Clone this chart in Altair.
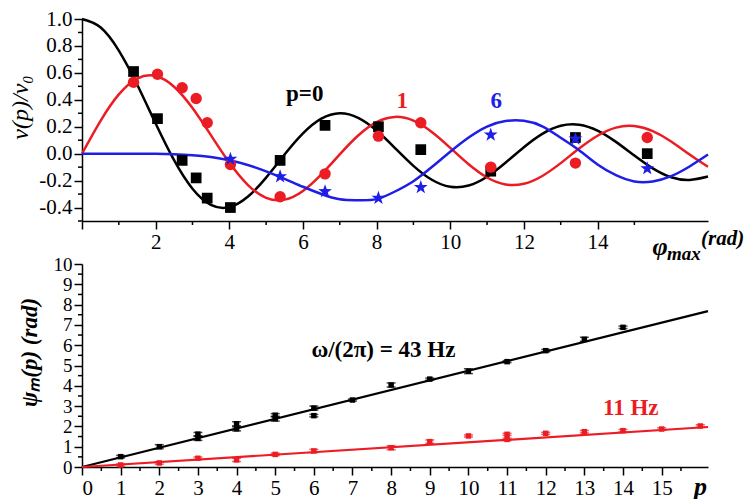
import altair as alt
import pandas as pd

# ---------------- top panel data ----------------
phi_curve = [0, 0.5, 1, 1.5, 2, 2.5, 3, 3.5, 4, 4.5, 5, 5.5, 6, 6.5, 7, 7.5, 8, 8.5,
             9, 9.5, 10, 10.5, 11, 11.5, 12, 12.5, 13, 13.5, 14, 14.5, 15, 15.5, 16, 16.5, 17]
curve_p0 = [1.0, 0.9385, 0.7652, 0.5118, 0.2239, -0.0484, -0.2601, -0.3801, -0.3971, -0.3205,
            -0.1776, -0.0068, 0.1506, 0.2601, 0.3001, 0.2663, 0.1717, 0.0419, -0.0903, -0.1939,
            -0.2459, -0.2366, -0.1712, -0.0677, 0.0477, 0.1469, 0.2069, 0.2150, 0.1711, 0.0875,
            -0.0142, -0.1092, -0.1749, -0.1950, -0.1699]
curve_p1 = [0.0, 0.2423, 0.4401, 0.5579, 0.5767, 0.4971, 0.3391, 0.1374, -0.0660, -0.2311,
            -0.3276, -0.3414, -0.2767, -0.1538, -0.0047, 0.1352, 0.2346, 0.2731, 0.2453, 0.1613,
            0.0435, -0.0789, -0.1768, -0.2284, -0.2234, -0.1655, -0.0703, 0.0380, 0.1334, 0.1934,
            0.2051, 0.1672, 0.0904, -0.0068, -0.0977]
curve_p6 = [0.0, 0.0, 0.0, -0.0002, -0.0012, -0.0042, -0.0114, -0.0254, -0.0491, -0.0837,
            -0.1310, -0.1865, -0.2458, -0.2998, -0.3392, -0.3460, -0.3376, -0.2810, -0.2043, -0.0993,
            0.0145, 0.1200, 0.2016, 0.2420, 0.2437, 0.2030, 0.1180, 0.0250, -0.0812, -0.1600,
            -0.2061, -0.2060, -0.1668, -0.0950, -0.0068]

phi_pts = [1.4, 2.05, 2.72, 3.1, 3.4, 4.03, 5.38, 6.6, 8.05, 9.2, 11.1, 13.4, 15.35]
pts_p0 = [0.61, 0.26, -0.05, -0.18, -0.33, -0.40, -0.05, 0.21, 0.20, 0.03, -0.13, 0.12, 0.00]
pts_p1 = [0.53, 0.59, 0.49, 0.41, 0.23, -0.08, -0.32, -0.15, 0.13, 0.23, -0.10, -0.07, 0.12]
phi_pts6 = [4.03, 5.38, 6.6, 8.05, 9.2, 11.1, 13.4, 15.35]
pts_p6 = [-0.04, -0.17, -0.28, -0.33, -0.25, 0.14, 0.11, -0.11]

top_labels = ["p=0", "1", "6"]
top_label_x = [6.05, 8.7, 11.25]
top_label_y = [0.44, 0.39, 0.39]

# tick positions
top_x_major = [0, 2, 4, 6, 8, 10, 12, 14]
top_x_minor = [1, 3, 5, 7, 9, 11, 13, 15]
top_y_major = [-0.4, -0.2, 0.0, 0.2, 0.4, 0.6, 0.8, 1.0]
top_y_minor = [-0.5, -0.3, -0.1, 0.1, 0.3, 0.5, 0.7, 0.9]

# ---------------- bottom panel data ----------------
p_43 = [1, 2, 3, 3, 4, 4, 5, 5, 6, 6, 7, 8, 9, 10, 11, 12, 13, 14]
psi_43 = [0.51, 1.0, 1.41, 1.62, 1.88, 2.13, 2.38, 2.55, 2.9, 2.53, 3.3, 4.04, 4.33, 4.72, 5.19, 5.73, 6.29, 6.88]
err_43 = [0.06, 0.1, 0.1, 0.08, 0.1, 0.1, 0.12, 0.08, 0.1, 0.06, 0.05, 0.1, 0.05, 0.12, 0.05, 0.06, 0.1, 0.06]
p_11 = [1, 2, 3, 4, 5, 6, 8, 9, 10, 11, 11, 12, 13, 14, 15, 16]
psi_11 = [0.1, 0.2, 0.43, 0.35, 0.62, 0.79, 0.95, 1.25, 1.53, 1.61, 1.36, 1.66, 1.74, 1.79, 1.87, 2.02]
err_11 = [0.05, 0.06, 0.06, 0.08, 0.06, 0.08, 0.1, 0.08, 0.05, 0.05, 0.06, 0.05, 0.06, 0.06, 0.06, 0.06]
fit_p = [0, 16.2]
fit_43 = [0, 7.68]
fit_11 = [0, 1.97]

bottom_labels = ["ω/(2π) = 43 Hz", "11 Hz"]
bottom_label_x = [7.8, 14.2]
bottom_label_y = [5.76, 2.9]

bot_x_major = list(range(0, 16))
bot_x_minor = [i + 0.5 for i in range(16)]
bot_y_major = list(range(0, 11))
bot_y_minor = [i + 0.5 for i in range(10)]

BLACK = "#000000"
RED = "#ec1c24"
BLUE = "#1e1ee6"
FONT = "Liberation Serif"
W = 626
H_TOP = 202
H_BOT = 203
STAR = ("M0,-1L0.235,-0.324L0.951,-0.309L0.380,0.124L0.588,0.809L0,0.4L-0.588,0.809"
        "L-0.380,0.124L-0.951,-0.309L-0.235,-0.324Z")

common_axis = dict(labelFont=FONT, labelColor="black", domainColor="black",
                   domainWidth=1.5, tickColor="black", tickWidth=1.5, tickSize=8, labelPadding=2,
                   labelOverlap=False, grid=False, titleFont=FONT, titleColor="black")

top_x_axis = alt.Axis(values=top_x_major, title=None, labelFontSize=21,
                      labelExpr="datum.value > 0 ? datum.value : ''", **common_axis)
top_y_axis = alt.Axis(values=top_y_major, title="ν(p)/ν₀", titleFontStyle="italic", titleFontSize=24,
                      titleFontWeight="normal", titlePadding=6, titleY=88, labelFontSize=21,
                      labelExpr="(datum.value < 0 ? '-' : '') + format(abs(datum.value), '.1f')",
                      **common_axis)
bot_x_axis = alt.Axis(values=bot_x_major, title="p", titleFontStyle="italic", titleFontWeight="bold",
                      titleFontSize=26, titleX=618, titleY=27, titleBaseline="alphabetic", titleAlign="center",
                      labelFontSize=21, **common_axis)
bot_y_axis = alt.Axis(values=bot_y_major, title="ψₘ(p) (rad)", titleFontStyle="italic", titleFontWeight="bold",
                      titleFontSize=23, titlePadding=12, titleY=88, labelFontSize=19, **common_axis)

xs_top = alt.Scale(domain=[0, 17], nice=False, zero=False)
ys_top = alt.Scale(domain=[-0.5, 1.0], nice=False, zero=False)
xs_bot = alt.Scale(domain=[0, 16.2], nice=False, zero=False)
ys_bot = alt.Scale(domain=[0, 10], nice=False, zero=False)


def TX(f):
    return alt.X(f, type="quantitative", scale=xs_top, axis=top_x_axis)


def TY(f):
    return alt.Y(f, type="quantitative", scale=ys_top, axis=top_y_axis)


def BX(f):
    return alt.X(f, type="quantitative", scale=xs_bot, axis=bot_x_axis)


def BY(f):
    return alt.Y(f, type="quantitative", scale=ys_bot, axis=bot_y_axis)


def minor_ticks(xvals, yvals, height, fx, fy):
    xt = alt.Chart(pd.DataFrame({"v": xvals})).mark_rule(color="black", strokeWidth=1.5).encode(
        x=fx("v"), y=alt.value(height), y2=alt.value(height + 4))
    yt = alt.Chart(pd.DataFrame({"v": yvals})).mark_rule(color="black", strokeWidth=1.5).encode(
        y=fy("v"), x=alt.value(-4), x2=alt.value(0))
    return xt, yt


# ---------------- top panel ----------------
curves = pd.concat([
    pd.DataFrame({"phi": phi_curve, "v": curve_p0, "s": "0"}),
    pd.DataFrame({"phi": phi_curve, "v": curve_p1, "s": "1"}),
    pd.DataFrame({"phi": phi_curve, "v": curve_p6, "s": "6"}),
])
color_scale = alt.Scale(domain=["0", "1", "6"], range=[BLACK, RED, BLUE])

lines = alt.Chart(curves).mark_line(interpolate="natural", strokeWidth=2.5).encode(
    x=TX("phi"), y=TY("v"),
    color=alt.Color("s:N", scale=color_scale, legend=None),
    detail="s:N",
)

sq = alt.Chart(pd.DataFrame({"phi": phi_pts, "v": pts_p0})).mark_point(
    shape="square", filled=True, size=115, color=BLACK, opacity=1).encode(x=TX("phi"), y=TY("v"))
circ = alt.Chart(pd.DataFrame({"phi": phi_pts, "v": pts_p1})).mark_point(
    shape="circle", filled=True, size=130, color=RED, opacity=1).encode(x=TX("phi"), y=TY("v"))
star = alt.Chart(pd.DataFrame({"phi": phi_pts6, "v": pts_p6})).mark_point(
    shape=STAR, filled=True, size=210, color=BLUE, opacity=1).encode(x=TX("phi"), y=TY("v"))

top_lab = alt.Chart(pd.DataFrame({"t": top_labels, "x": top_label_x, "y": top_label_y,
                                  "s": ["0", "1", "6"]})).mark_text(
    font=FONT, fontSize=23, fontWeight="bold").encode(
    x=TX("x"), y=TY("y"), text="t:N", color=alt.Color("s:N", scale=color_scale, legend=None))

phi_t = alt.Chart(pd.DataFrame({"t": ["φ"]})).mark_text(
    font=FONT, fontSize=26, fontStyle="italic", fontWeight="bold", align="center", baseline="middle",
    color="black").encode(x=alt.value(578), y=alt.value(228), text="t:N")
max_t = alt.Chart(pd.DataFrame({"t": ["max"]})).mark_text(
    font=FONT, fontSize=19, fontStyle="italic", fontWeight="bold", align="left", baseline="middle",
    color="black").encode(x=alt.value(585), y=alt.value(235), text="t:N")
rad_t = alt.Chart(pd.DataFrame({"t": ["(rad)"]})).mark_text(
    font=FONT, fontSize=21, fontStyle="italic", fontWeight="bold", align="left", baseline="middle",
    color="black").encode(x=alt.value(619), y=alt.value(220), text="t:N")

tx, ty = minor_ticks(top_x_minor, top_y_minor, H_TOP, TX, TY)
top = alt.layer(lines, sq, circ, star, top_lab, phi_t, max_t, rad_t, tx, ty).properties(width=W, height=H_TOP)

# ---------------- bottom panel ----------------
d43 = pd.DataFrame({"p": p_43, "psi": psi_43, "e": err_43})
d43["lo"] = d43["psi"] - d43["e"]
d43["hi"] = d43["psi"] + d43["e"]
d11 = pd.DataFrame({"p": p_11, "psi": psi_11, "e": err_11})
d11["lo"] = d11["psi"] - d11["e"]
d11["hi"] = d11["psi"] + d11["e"]


def series_layers(df, fit_vals, col):
    fit = alt.Chart(pd.DataFrame({"p": fit_p, "psi": fit_vals})).mark_line(
        color=col, strokeWidth=2.2).encode(x=BX("p"), y=BY("psi"))
    bars = alt.Chart(df).mark_rule(color=col, strokeWidth=1.5).encode(x=BX("p"), y=BY("lo"), y2="hi:Q")
    cap_lo = alt.Chart(df).mark_tick(color=col, orient="horizontal", size=9, thickness=1.5).encode(
        x=BX("p"), y=BY("lo"))
    cap_hi = alt.Chart(df).mark_tick(color=col, orient="horizontal", size=9, thickness=1.5).encode(
        x=BX("p"), y=BY("hi"))
    pts = alt.Chart(df).mark_point(shape="square", filled=True, size=30, color=col, opacity=1).encode(
        x=BX("p"), y=BY("psi"))
    return [fit, bars, cap_lo, cap_hi, pts]


bot_lab = alt.Chart(pd.DataFrame({"t": bottom_labels, "x": bottom_label_x, "y": bottom_label_y,
                                  "s": ["0", "1"]})).mark_text(
    font=FONT, fontSize=23, fontWeight="bold").encode(
    x=BX("x"), y=BY("y"), text="t:N", color=alt.Color("s:N", scale=color_scale, legend=None))

bx, by = minor_ticks(bot_x_minor, bot_y_minor, H_BOT, BX, BY)
bottom = alt.layer(*series_layers(d43, fit_43, BLACK), *series_layers(d11, fit_11, RED), bot_lab, bx, by).properties(
    width=W, height=H_BOT)

chart = alt.vconcat(top, bottom, spacing=-13).properties(
    padding={"left": 0, "top": 0, "right": 0, "bottom": 0}
).configure(
    background="white",
    view=alt.ViewConfig(stroke=None),
    axis=alt.AxisConfig(labelFont=FONT, labelOverlap=False, titleFont=FONT),
)

chart.save("out.html", embed_options={"renderer": "svg", "actions": False})
